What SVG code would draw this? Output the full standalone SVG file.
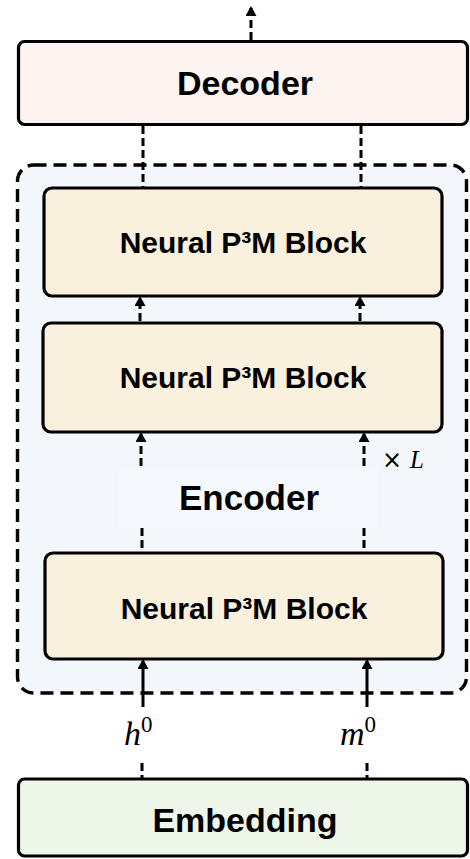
<svg xmlns="http://www.w3.org/2000/svg" width="470" height="859" viewBox="0 0 470 859">
<defs>
<marker id="ah" viewBox="0 0 10 11" refX="8" refY="5.5" markerWidth="10" markerHeight="11" markerUnits="userSpaceOnUse" orient="auto">
<path d="M0,0 L10,5.5 L0,11 Z" fill="#000"/>
</marker>
<style>
.box{stroke:#000;stroke-width:3.2}
.lbl{font-family:"Liberation Sans",Arial,sans-serif;font-weight:bold;fill:#000;text-anchor:middle}
.dash{stroke:#000;stroke-width:3;fill:none;stroke-dasharray:8,4}
.solid{stroke:#000;stroke-width:3;fill:none}
.math{font-family:"Liberation Serif","Times New Roman",serif;font-style:italic;fill:#000}
</style>
</defs>
<rect width="470" height="859" fill="#fff"/>
<g id="encoder">
<rect x="17.5" y="165" width="449" height="528" rx="16" fill="#f3f6fb" stroke="#000" stroke-width="3.4" stroke-dasharray="13,7"/>
<rect x="119" y="468" width="259" height="60" fill="#f5f8fc"/>
<text class="lbl" x="249" y="510" font-size="35">Encoder</text>
<text x="382" y="468" font-family="'DejaVu Sans',sans-serif" font-size="24" fill="#000">×</text>
<text class="math" x="410" y="468" font-size="25">L</text>
</g>
<g id="decoder">
<rect class="box" x="18.5" y="41.5" width="449" height="83" rx="6" fill="#fdf3f0"/>
<text class="lbl" x="245" y="95" font-size="34">Decoder</text>
</g>
<g id="block1">
<rect class="box" x="44" y="188" width="398" height="108" rx="8" fill="#f9f0de"/>
<text class="lbl" x="243" y="253" font-size="30">Neural P³M Block</text>
</g>
<g id="block2">
<rect class="box" x="43" y="323" width="399" height="109" rx="8" fill="#f9f0de"/>
<text class="lbl" x="243" y="388" font-size="30">Neural P³M Block</text>
</g>
<g id="block3">
<rect class="box" x="45" y="553" width="398" height="106" rx="8" fill="#f9f0de"/>
<text class="lbl" x="244" y="619" font-size="30">Neural P³M Block</text>
</g>
<g id="embedding">
<rect class="box" x="18.5" y="779" width="449" height="77" rx="6" fill="#eef6ea"/>
<text class="lbl" x="245" y="832" font-size="34">Embedding</text>
</g>
<g id="labels">
<text class="math" x="124" y="745" font-size="34">h<tspan font-style="normal" font-size="23" dy="-13">0</tspan></text>
<text class="math" x="340" y="745" font-size="34">m<tspan font-style="normal" font-size="23" dy="-13">0</tspan></text>
</g>
<g id="connectors">
<line class="dash" x1="251" y1="40" x2="251" y2="8" marker-end="url(#ah)"/>
<line class="dash" x1="143" y1="126" x2="143" y2="187"/>
<line class="dash" x1="361" y1="126" x2="361" y2="187"/>
<line class="dash" x1="140" y1="321" x2="140" y2="298" marker-end="url(#ah)"/>
<line class="dash" x1="360" y1="321" x2="360" y2="298" marker-end="url(#ah)"/>
<line class="dash" x1="141" y1="466" x2="141" y2="434" marker-end="url(#ah)"/>
<line class="dash" x1="364" y1="466" x2="364" y2="434" marker-end="url(#ah)"/>
<line class="dash" x1="142" y1="528" x2="142" y2="552"/>
<line class="dash" x1="364" y1="528" x2="364" y2="552"/>
<line class="solid" x1="143" y1="707" x2="143" y2="661" marker-end="url(#ah)"/>
<line class="solid" x1="367" y1="707" x2="367" y2="661" marker-end="url(#ah)"/>
<line class="dash" x1="142" y1="763" x2="142" y2="778"/>
<line class="dash" x1="367" y1="763" x2="367" y2="778"/>
</g>
</svg>
